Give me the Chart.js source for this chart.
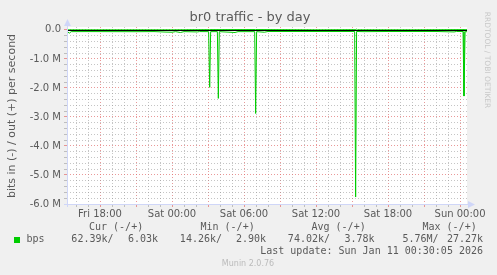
<!DOCTYPE html>
<html>
<head>
<meta charset="utf-8">
<script src="https://cdn.jsdelivr.net/npm/chart.js@4.4.1/dist/chart.umd.min.js"></script>
<style>
  html, body { margin: 0; padding: 0; background: #f0f0f0; }
  canvas { display: block; }
</style>
</head>
<body>
<canvas id="chart" width="497" height="275"></canvas>
<script>
// hours relative to Sat 00:00, values in bits per second
const inTimes = [-8.75, -8.55, -8.4, -7, -5, -3, -1.5, -0.5, 0, 0.3, 0.7, 1.0, 2.1, 2.3,
    3.05, 3.14, 3.22, 3.78, 3.86, 3.94, 5.25, 5.5, 6.89, 6.97, 7.05, 7.7, 8, 10, 12, 14,
    15.22, 15.3, 15.38, 16, 18, 20, 22, 23.5, 23.7, 24.25, 24.33, 24.42, 24.58];
const inValues = [-62e3, -110e3, -60e3, -58e3, -60e3, -62e3, -58e3, -75e3, -80e3, -60e3, -90e3, -60e3, -70e3, -58e3,
    -60e3, -1.98e6, -60e3, -60e3, -2.36e6, -60e3, -90e3, -60e3, -60e3, -2.88e6, -60e3, -80e3, -55e3, -55e3, -55e3, -55e3,
    -55e3, -5.76e6, -55e3, -60e3, -55e3, -55e3, -55e3, -70e3, -55e3, -55e3, -2.28e6, -62e3, -62e3];

const outTimes = [-8.75, -4, 0, 3.14, 6.97, 12, 15.3, 15.38, 15.46, 20, 24.33, 24.58];
const outValues = [3.5e3, 3.2e3, 3.6e3, 9e3, 12e3, 3.4e3, 8e3, 27.27e3, 4e3, 3.3e3, 10e3, 6.03e3];

const xLabels = { '-6': 'Fri 18:00', '0': 'Sat 00:00', '6': 'Sat 06:00', '12': 'Sat 12:00', '18': 'Sat 18:00', '24': 'Sun 00:00' };

const legendHeads = ['Cur (-/+)', 'Min (-/+)', 'Avg (-/+)', 'Max (-/+)'];
const legendIn = ['62.39k/', '14.26k/', '74.02k/', '5.76M/'];
const legendOut = ['6.03k', '2.90k', '3.78k', '27.27k'];

const GREEN = '#00cc00';
const AXIS = '#cfd6f8';
const MGRID = 'rgba(225,110,110,0.7)';
const GRID = 'rgba(150,150,150,0.55)';
const FONT = 'DejaVu Sans';
const MONO = 'DejaVu Sans Mono';

const toPoints = (ts, vs) => ts.map((t, i) => ({ x: t, y: vs[i] }));

const munin_plugin = {
    id: 'munin',
    beforeDraw: (chart) => {
        const { ctx, chartArea: a } = chart;
        ctx.save();
        ctx.fillStyle = '#f0f0f0';
        ctx.fillRect(0, 0, chart.width, chart.height);
        ctx.fillStyle = '#ffffff';
        ctx.fillRect(a.left, a.top, a.right - a.left, a.bottom - a.top);
        ctx.restore();
    },
    afterDatasetsDraw: (chart) => {
        const { ctx, chartArea: a, scales } = chart;
        ctx.save();
        // zero rule
        const y0 = Math.round(scales.y.getPixelForValue(0)) + 0.5;
        ctx.strokeStyle = '#000000';
        ctx.lineWidth = 1;
        ctx.beginPath();
        ctx.moveTo(a.left, y0);
        ctx.lineTo(a.right, y0);
        ctx.stroke();
        ctx.restore();
    },
    afterDraw: (chart) => {
        const { ctx, chartArea: a } = chart;
        ctx.save();
        // axes with arrows
        ctx.strokeStyle = AXIS;
        ctx.fillStyle = AXIS;
        ctx.lineWidth = 1;
        const xl = a.left + 0.5, yb = a.bottom + 0.5;
        ctx.beginPath();
        ctx.moveTo(xl, a.bottom + 3);
        ctx.lineTo(xl, 24);
        ctx.moveTo(a.left - 3, yb);
        ctx.lineTo(a.right + 4, yb);
        ctx.stroke();
        ctx.beginPath();
        ctx.moveTo(xl, 19);
        ctx.lineTo(xl - 3.5, 26);
        ctx.lineTo(xl + 3.5, 26);
        ctx.closePath();
        ctx.fill();
        ctx.beginPath();
        ctx.moveTo(a.right + 8, yb);
        ctx.lineTo(a.right + 1, yb - 3.5);
        ctx.lineTo(a.right + 1, yb + 3.5);
        ctx.closePath();
        ctx.fill();

        // title
        ctx.fillStyle = '#5a5a5a';
        ctx.font = '13px "' + FONT + '"';
        ctx.textAlign = 'center';
        ctx.textBaseline = 'middle';
        ctx.fillText('br0 traffic - by day', 250, 18);

        // vertical axis title
        ctx.save();
        ctx.translate(12, 116);
        ctx.rotate(-Math.PI / 2);
        ctx.font = '11px "' + FONT + '"';
        ctx.fillText('bits in (-) / out (+) per second', 0, 0);
        ctx.restore();

        // rrdtool credit
        ctx.save();
        ctx.translate(487, 60);
        ctx.rotate(Math.PI / 2);
        ctx.fillStyle = '#c8c8c8';
        ctx.font = '7.5px "' + FONT + '"';
        ctx.fillText('RRDTOOL / TOBI OETIKER', 0, 0);
        ctx.restore();

        // legend
        ctx.font = '10px "' + MONO + '"';
        ctx.fillStyle = '#5a5a5a';
        const headX = [89, 200.5, 311.5, 422.5];
        const inX = [113.5, 222, 330, 438.5];
        const outX = [158, 266, 374.5, 483];
        ctx.textAlign = 'left';
        legendHeads.forEach((h, i) => ctx.fillText(h, headX[i], 227.5));
        ctx.textAlign = 'right';
        legendIn.forEach((v, i) => ctx.fillText(v, inX[i], 239.5));
        legendOut.forEach((v, i) => ctx.fillText(v, outX[i], 239.5));
        ctx.textAlign = 'left';
        ctx.fillText('bps', 26.5, 239.5);
        ctx.fillStyle = GREEN;
        ctx.fillRect(14, 237, 6, 6);
        ctx.fillStyle = '#5a5a5a';
        ctx.textAlign = 'right';
        ctx.fillText('Last update: Sun Jan 11 00:30:05 2026', 483, 251.5);

        ctx.textAlign = 'center';
        ctx.fillStyle = '#bbbbbb';
        ctx.font = '8px "' + FONT + '"';
        ctx.fillText('Munin 2.0.76', 248, 264);
        ctx.restore();
    },
};

let config = {
    type: 'line',
    data: {
        datasets: [
            {
                label: 'in',
                data: toPoints(inTimes, inValues),
                borderColor: GREEN,
                borderWidth: 1,
                pointRadius: 0,
                tension: 0,
            },
            {
                label: 'out',
                data: toPoints(outTimes, outValues),
                borderColor: GREEN,
                borderWidth: 1,
                pointRadius: 0,
                tension: 0,
            },
        ],
    },
    options: {
        responsive: false,
        animation: false,
        events: [],
        layout: { padding: { top: 27, right: 30, bottom: 51, left: 0 } },
        plugins: {
            legend: { display: false },
            title: { display: false },
            tooltip: { enabled: false },
        },
        scales: {
            x: {
                type: 'linear',
                min: -8.75,
                max: 24.58,
                afterFit: (scale) => { scale.height = 20; },
                afterBuildTicks: (scale) => {
                    let ticks = [];
                    for (let h = -8; h <= 24; h++) ticks.push({ value: h });
                    scale.ticks = ticks;
                },
                border: { display: false, dash: [1, 2] },
                grid: {
                    color: (c) => (c.tick && c.tick.value % 3 === 0) ? MGRID : GRID,
                    lineWidth: 1,
                    tickLength: 3,
                    tickBorderDash: [],
                },
                ticks: {
                    autoSkip: false,
                    maxRotation: 0,
                    padding: 1,
                    color: '#5a5a5a',
                    font: { family: FONT, size: 10 },
                    callback: (v) => xLabels[String(v)] || '',
                },
            },
            y: {
                min: -6.0e6,
                max: 0.1e6,
                afterFit: (scale) => { scale.width = 67; },
                afterBuildTicks: (scale) => {
                    let ticks = [];
                    for (let i = -30; i <= 0; i++) ticks.push({ value: i * 0.2e6 });
                    scale.ticks = ticks;
                },
                border: { display: false, dash: [1, 2] },
                grid: {
                    color: (c) => (c.tick && Math.abs(c.tick.value % 1e6) < 1) ? MGRID : GRID,
                    lineWidth: 1,
                    tickLength: 3,
                    tickBorderDash: [],
                },
                ticks: {
                    autoSkip: false,
                    padding: 3,
                    color: '#5a5a5a',
                    font: { family: FONT, size: 10 },
                    callback: (v) => {
                        if (Math.abs(v % 1e6) > 1) return '';
                        if (v === 0) return '0.0';
                        return (v / 1e6).toFixed(1) + ' M';
                    },
                },
            },
        },
    },
    plugins: [munin_plugin],
};

new Chart(document.getElementById('chart'), config);
</script>
</body>
</html>
